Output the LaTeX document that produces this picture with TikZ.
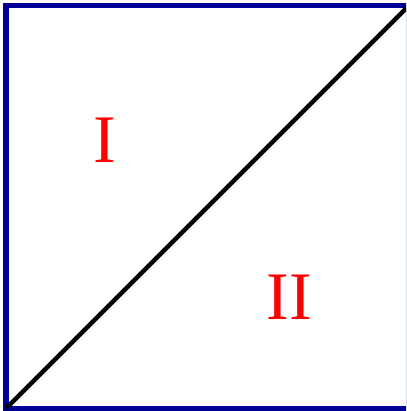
\documentclass[tikz,border=0pt]{standalone}
\usepackage{fontspec}
\setmainfont{Liberation Serif}
\usepackage{xcolor}
\usepackage{tikz}
\definecolor{frame}{HTML}{000099}
\definecolor{region}{HTML}{FF0000}

\begin{document}
\begin{tikzpicture}[
  x=1pt,y=1pt,
  border/.style={draw=frame,line width=5.5pt},
  cut/.style={draw=black,line width=4.5pt},
  part/.style={text=region,font=\fontsize{68}{68}\selectfont,inner sep=0pt}
]
\useasboundingbox (0,0) rectangle (406,411);
\clip (0,0) rectangle (406,411);
\coordinate (sw) at (6,2.5);
\coordinate (ne) at (409,405.5);
\draw[border] (sw) rectangle (ne);
\draw[cut] (sw)--(ne);
\node[part] (upper) at (104.5,271) {I};
\node[part] (lower) at (289,113.5) {II};
\end{tikzpicture}
\end{document}
